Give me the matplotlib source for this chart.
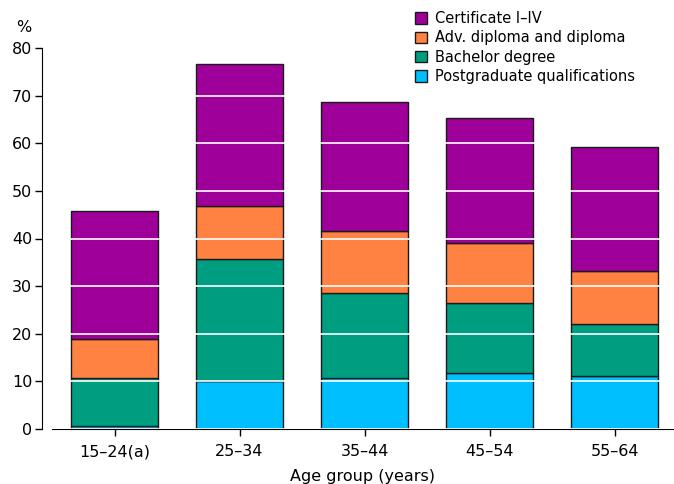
import matplotlib.pyplot as plt
import numpy as np

ages = ['15–24(a)', '25–34', '35–44', '45–54', '55–64']
postgrad = [0.6, 10.0, 10.8, 11.8, 11.1]
bachelor = [10.2, 25.8, 17.8, 14.7, 10.9]
adv_diploma = [8.0, 11.1, 12.9, 12.6, 11.2]
certificate = [27.0, 29.7, 27.1, 26.1, 26.0]

series = [
    ('Postgraduate qualifications', postgrad, '#00BFFF'),
    ('Bachelor degree', bachelor, '#009E80'),
    ('Adv. diploma and diploma', adv_diploma, '#FF8243'),
    ('Certificate I–IV', certificate, '#9E0099'),
]

plt.rcParams['font.family'] = ['DejaVu Sans']
plt.rcParams['font.size'] = 11

fig = plt.figure(figsize=(6.74, 4.84), dpi=100)
ax = fig.add_axes([52 / 674, 55 / 484, 622 / 674, 381 / 484])

x = np.arange(len(ages))
bottom = np.zeros(len(ages))
handles = []
for label, vals, color in series:
    b = ax.bar(x, vals, width=0.7, bottom=bottom, color=color,
               edgecolor='#1a1a1a', linewidth=1, label=label, zorder=2)
    handles.append(b)
    bottom += np.array(vals)

ax.set_xlim(-0.5, 4.476)
ax.set_ylim(0, 80)
ax.set_yticks(range(0, 81, 10))
ax.set_xticks(x)
ax.set_xticklabels(ages)

# white grid lines drawn over the bars
ax.yaxis.grid(True, color='white', linewidth=1.2)
ax.set_axisbelow(False)

for s in ['top', 'right']:
    ax.spines[s].set_visible(False)
ax.spines['left'].set_position(('outward', 7.2))
ax.spines['left'].set_bounds(0, 80)
ax.tick_params(axis='both', length=5, width=1, labelsize=11.5)
ax.tick_params(axis='y', pad=2)
ax.tick_params(axis='x', pad=6)

ax.set_xlabel('Age group (years)', fontsize=11.5, labelpad=7)
fig.text(16 / 674, 1 - 27 / 484, '%', fontsize=11.5, va='center', ha='left')

ax.legend(handles[::-1], [h.get_label() for h in handles[::-1]],
          loc='upper left', bbox_to_anchor=(415 / 674, 1 - 11 / 484),
          bbox_transform=fig.transFigure, frameon=False, fontsize=10.5,
          handlelength=0.8, handleheight=0.8, handletextpad=0.55,
          labelspacing=0.3, borderpad=0, borderaxespad=0)

fig.savefig('out.png', dpi=100)
